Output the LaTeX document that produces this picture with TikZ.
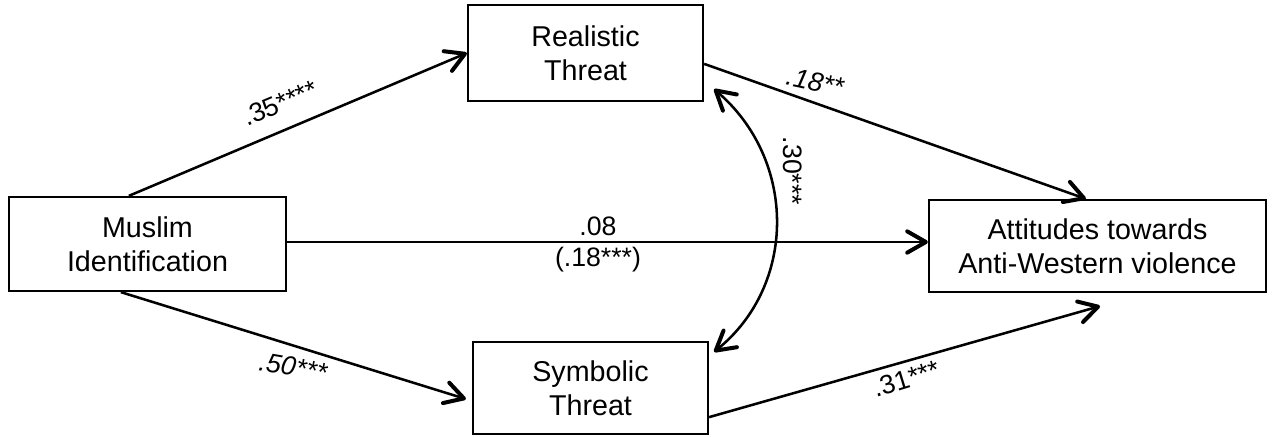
\documentclass[tikz,border=0pt]{standalone}
\usepackage{fontspec}
\setmainfont{Liberation Sans}
\usetikzlibrary{arrows.meta,calc}

\begin{document}
\begin{tikzpicture}[x=0.75pt,y=0.75pt,
  box/.style={draw,line width=1.7pt,align=center,inner sep=0pt,
    font=\fontsize{21.5}{25.5}\selectfont},
  tip/.tip={Straight Barb[length=14pt,width=16pt,line width=3pt,round]},
  path/.style={line width=1.9pt,-tip},
  coef/.style={inner sep=0pt,font=\fontsize{20}{24}\selectfont},
  coefit/.style={coef,font=\fontsize{20}{24}\selectfont\itshape}]
\useasboundingbox (0,0) rectangle (1272,-436);

% variables (sizes in pt: 0.75pt per unit)
\node[box,minimum width=207.75pt,minimum height=70.5pt] (mus) at (147.5,-244) {Muslim\\Identification};
\node[box,minimum width=176.25pt,minimum height=72pt] (real) at (585.5,-53) {Realistic\\Threat};
\node[box,minimum width=176.25pt,minimum height=69pt] (sym) at (590.5,-388) {Symbolic\\Threat};
\node[box,minimum width=252.75pt,minimum height=69pt] (att) at (1097.5,-246) {Attitudes towards\\Anti-Western violence};

% attachment points on the boxes
\coordinate (musTop) at ($(mus.north west)+(121,0)$);
\coordinate (musBot) at ($(mus.south west)+(113,0)$);
\coordinate (musOut) at ($(mus.east)+(0,2)$);
\coordinate (realOut) at ($(real.north east)+(0,-60)$);
\coordinate (realCov) at ($(real.south east)+(10,13)$);
\coordinate (symIn) at ($(sym.west)+(-6,-11)$);
\coordinate (symOut) at ($(sym.south east)+(0,18)$);
\coordinate (symCov) at ($(sym.north east)+(5,-11)$);
\coordinate (attTop) at ($(att.north west)+(158,0)$);
\coordinate (attIn) at ($(att.west)+(0,4)$);
\coordinate (attBot) at ($(att.south)+(2.5,-13)$);

% paths
\draw[path] (musTop) -- (real.west);
\draw[path] (realOut) -- (attTop);
\draw[path] (musOut) -- (attIn);
\draw[path] (musBot) -- (symIn);
\draw[path] (symOut) -- (attBot);
\draw[path,tip-tip] (realCov) .. controls (797,-160) and (797,-285) .. (symCov);

% coefficients
\node[coef,rotate=23] (c1) at (280,-103) {.35****};
\node[coefit,rotate=-12] (c2) at (815,-82) {.18**};
\node[coef] (c3) at (598,-226) {.08};
\node[coef] (c4) at (598,-260) {(.18***)};
\node[coefit,rotate=-10] (c5) at (293,-367) {.50***};
\node[coef,rotate=17] (c6) at (906,-379) {.31***};
\node[coef,rotate=-90] (c7) at (793,-171) {.30***};
\end{tikzpicture}
\end{document}
